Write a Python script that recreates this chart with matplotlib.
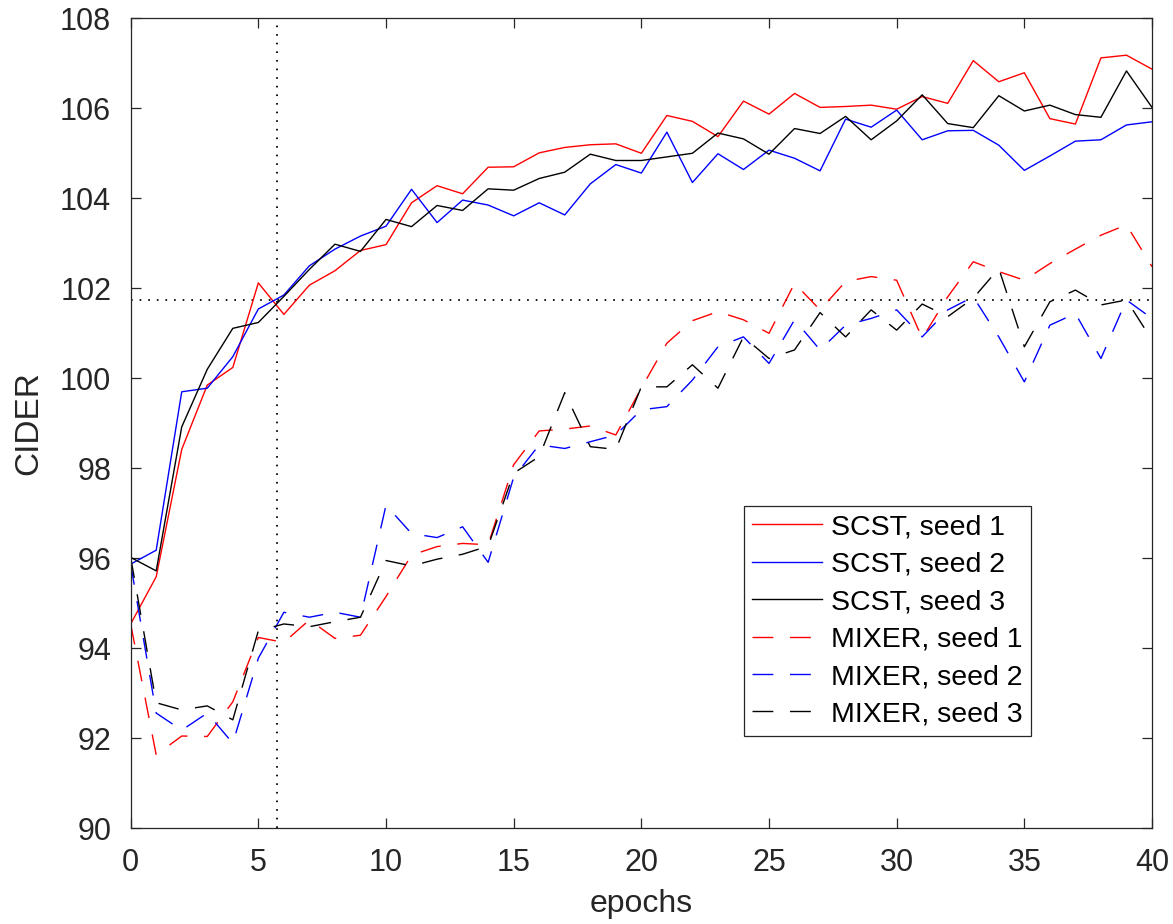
import numpy as np
import matplotlib
matplotlib.use("Agg")
import matplotlib.pyplot as plt

plt.rcParams['font.family'] = ['Liberation Sans', 'DejaVu Sans']
plt.rcParams['lines.scale_dashes'] = False

# CIDEr per epoch
epochs = np.arange(0, 41)
scst_seed1 = [94.54, 95.59, 98.42, 99.85, 100.24, 102.12, 101.42, 102.07, 102.39, 102.84,
              102.97, 103.90, 104.28, 104.10, 104.69, 104.70, 105.01, 105.13, 105.19, 105.21,
              105.00, 105.84, 105.71, 105.37, 106.16, 105.87, 106.33, 106.02, 106.04, 106.07,
              105.98, 106.26, 106.11, 107.06, 106.59, 106.79, 105.77, 105.65, 107.12, 107.18,
              106.87]
scst_seed2 = [95.87, 96.18, 99.70, 99.78, 100.48, 101.54, 101.85, 102.50, 102.87, 103.16,
              103.38, 104.20, 103.46, 103.96, 103.85, 103.61, 103.90, 103.63, 104.32, 104.75,
              104.56, 105.47, 104.35, 104.99, 104.64, 105.07, 104.89, 104.61, 105.76, 105.58,
              105.96, 105.30, 105.50, 105.51, 105.18, 104.62, 104.94, 105.27, 105.30, 105.63,
              105.70]
scst_seed3 = [96.02, 95.72, 98.92, 100.20, 101.11, 101.24, 101.82, 102.42, 102.98, 102.82,
              103.53, 103.37, 103.84, 103.73, 104.21, 104.18, 104.44, 104.58, 104.98, 104.84,
              104.84, 104.92, 105.00, 105.45, 105.32, 104.98, 105.55, 105.44, 105.82, 105.30,
              105.72, 106.30, 105.66, 105.57, 106.28, 105.94, 106.07, 105.86, 105.80, 106.83,
              106.02]
mixer_seed1 = [94.54, 91.63, 92.05, 92.04, 92.81, 94.24, 94.13, 94.63, 94.22, 94.29,
               95.15, 96.07, 96.26, 96.33, 96.30, 98.08, 98.83, 98.87, 98.94, 98.74,
               99.78, 100.78, 101.28, 101.48, 101.30, 101.00, 102.11, 101.52, 102.15, 102.26,
               102.18, 100.89, 101.81, 102.59, 102.37, 102.18, 102.55, 102.87, 103.18, 103.41,
               102.48]
mixer_seed2 = [95.87, 92.56, 92.18, 92.56, 91.89, 93.78, 94.80, 94.69, 94.80, 94.69,
               97.18, 96.55, 96.46, 96.70, 95.91, 97.80, 98.52, 98.44, 98.59, 98.74,
               99.30, 99.37, 99.96, 100.70, 100.92, 100.33, 101.30, 100.63, 101.18, 101.33,
               101.52, 100.92, 101.52, 101.81, 100.92, 99.92, 101.18, 101.44, 100.44, 101.74,
               101.33]
mixer_seed3 = [96.02, 92.79, 92.63, 92.72, 92.41, 94.39, 94.54, 94.48, 94.59, 94.69,
               95.95, 95.83, 95.98, 96.09, 96.27, 97.89, 98.26, 99.68, 98.48, 98.42,
               99.81, 99.81, 100.30, 99.78, 100.92, 100.44, 100.63, 101.46, 100.92, 101.52,
               101.07, 101.65, 101.37, 101.78, 102.44, 100.70, 101.70, 101.96, 101.63, 101.74,
               100.85]

# reference lines (dotted)
ref_epoch = 5.72
ref_cider = 101.75

fig = plt.figure(figsize=(11.73, 9.24), dpi=100)
ax = fig.add_axes([0.1114, 0.1036, 0.8707, 0.8766])

dot = (1.2, 5.0)
ax.plot([ref_epoch, ref_epoch], [90, 108], color='black', lw=1.3, dashes=dot)
ax.plot([0, 40], [ref_cider, ref_cider], color='black', lw=1.3, dashes=dot)

dash = (15, 12)
ax.plot(epochs, scst_seed1, color='red', lw=1.0, label='SCST, seed 1')
ax.plot(epochs, scst_seed2, color='blue', lw=1.0, label='SCST, seed 2')
ax.plot(epochs, scst_seed3, color='black', lw=1.0, label='SCST, seed 3')
ax.plot(epochs, mixer_seed1, color='red', lw=1.0, dashes=dash, label='MIXER, seed 1')
ax.plot(epochs, mixer_seed2, color='blue', lw=1.0, dashes=dash, label='MIXER, seed 2')
ax.plot(epochs, mixer_seed3, color='black', lw=1.0, dashes=dash, label='MIXER, seed 3')

ax.set_xlim(0, 40)
ax.set_ylim(90, 108)
ax.set_xticks(np.arange(0, 41, 5))
ax.set_yticks(np.arange(90, 109, 2))

gray = (0.15, 0.15, 0.15)
for s in ax.spines.values():
    s.set_color(gray)
    s.set_linewidth(0.9)
ax.tick_params(direction='in', length=7, width=0.9, color=gray, labelcolor=gray,
               labelsize=22, pad=14, top=True, right=True)

ax.set_xlabel('epochs', fontsize=23, color=gray, labelpad=8)
ax.set_ylabel('CIDER', fontsize=24, color=gray, labelpad=11)

leg = ax.legend(loc='lower right', bbox_to_anchor=(0.882, 0.114), borderaxespad=0,
                fontsize=20.5, handlelength=2.45, handletextpad=0.33, labelspacing=0.4,
                borderpad=0.3, fancybox=False, framealpha=1)
leg.get_frame().set_edgecolor(gray)
leg.get_frame().set_linewidth(0.9)

fig.savefig('out.png', dpi=100)
